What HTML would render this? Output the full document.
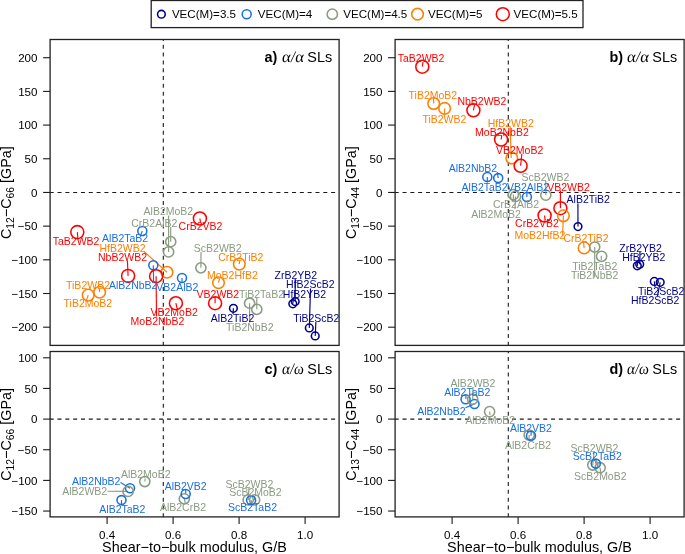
<!DOCTYPE html><html><head><meta charset="utf-8"><style>html,body{margin:0;padding:0;background:#fff;overflow:hidden}svg{display:block;will-change:transform;font-family:"Liberation Sans",sans-serif}</style></head><body>
<svg width="685" height="554" viewBox="0 0 685 554">
<rect width="685" height="554" fill="#fff"/>
<rect x="151.2" y="0.5" width="431.8" height="27.1" fill="none" stroke="#222" stroke-width="1.3"/>
<circle cx="161.4" cy="14.2" r="3.85" fill="none" stroke="#00008B" stroke-width="1.55"/>
<text x="171.9" y="18.4" font-size="11.6" fill="#000">VEC(M)=3.5</text>
<circle cx="246.7" cy="14.2" r="4.5" fill="none" stroke="#1a6fe0" stroke-width="1.55"/>
<text x="257.8" y="18.4" font-size="11.6" fill="#000">VEC(M)=4</text>
<circle cx="332.3" cy="14.2" r="5.15" fill="none" stroke="#8a9b82" stroke-width="1.55"/>
<text x="343.2" y="18.4" font-size="11.6" fill="#000">VEC(M)=4.5</text>
<circle cx="417.5" cy="14.2" r="5.8" fill="none" stroke="#ff7f00" stroke-width="1.55"/>
<text x="428.0" y="18.4" font-size="11.6" fill="#000">VEC(M)=5</text>
<circle cx="502.8" cy="14.2" r="6.5" fill="none" stroke="#ff0000" stroke-width="1.55"/>
<text x="513.6" y="18.4" font-size="11.6" fill="#000">VEC(M)=5.5</text>
<line x1="50.1" y1="192.45" x2="339.1" y2="192.45" stroke="#1a1a1a" stroke-width="1.1" stroke-dasharray="4 3.817" stroke-dashoffset="0.4"/>
<line x1="163.3" y1="345.4" x2="163.3" y2="39.5" stroke="#1a1a1a" stroke-width="1.1" stroke-dasharray="4 3.817" stroke-dashoffset="0.4"/>
<line x1="43.1" y1="57.71" x2="50.1" y2="57.71" stroke="#1a1a1a" stroke-width="1.1"/>
<text x="37.5" y="61.91" font-size="11.6" text-anchor="end">200</text>
<line x1="43.1" y1="91.39" x2="50.1" y2="91.39" stroke="#1a1a1a" stroke-width="1.1"/>
<text x="37.5" y="95.59" font-size="11.6" text-anchor="end">150</text>
<line x1="43.1" y1="125.08" x2="50.1" y2="125.08" stroke="#1a1a1a" stroke-width="1.1"/>
<text x="37.5" y="129.28" font-size="11.6" text-anchor="end">100</text>
<line x1="43.1" y1="158.76" x2="50.1" y2="158.76" stroke="#1a1a1a" stroke-width="1.1"/>
<text x="37.5" y="162.96" font-size="11.6" text-anchor="end">50</text>
<line x1="43.1" y1="192.45" x2="50.1" y2="192.45" stroke="#1a1a1a" stroke-width="1.1"/>
<text x="37.5" y="196.65" font-size="11.6" text-anchor="end">0</text>
<line x1="43.1" y1="226.13" x2="50.1" y2="226.13" stroke="#1a1a1a" stroke-width="1.1"/>
<text x="37.5" y="230.33" font-size="11.6" text-anchor="end">−50</text>
<line x1="43.1" y1="259.82" x2="50.1" y2="259.82" stroke="#1a1a1a" stroke-width="1.1"/>
<text x="37.5" y="264.02" font-size="11.6" text-anchor="end">−100</text>
<line x1="43.1" y1="293.5" x2="50.1" y2="293.5" stroke="#1a1a1a" stroke-width="1.1"/>
<text x="37.5" y="297.7" font-size="11.6" text-anchor="end">−150</text>
<line x1="43.1" y1="327.19" x2="50.1" y2="327.19" stroke="#1a1a1a" stroke-width="1.1"/>
<text x="37.5" y="331.39" font-size="11.6" text-anchor="end">−200</text>
<text transform="translate(10.9,192.65) rotate(-90)" font-size="14.4" text-anchor="middle">C<tspan font-size="10.3" dy="2.8">12</tspan><tspan dy="-2.8">−C</tspan><tspan font-size="10.3" dy="2.8">66</tspan><tspan dy="-2.8"> [GPa]</tspan></text>
<text x="264.5" y="61.5" font-size="14.4" font-weight="bold">a)</text>
<text transform="translate(281.5,61.5) skewX(-7)" font-size="16" font-family="Liberation Serif" textLength="22" lengthAdjust="spacingAndGlyphs">α/α</text>
<text x="332.1" y="61.5" font-size="14.4" text-anchor="end">SLs</text>
<line x1="77.3" y1="232.1" x2="77.8" y2="237" stroke="#ff0000" stroke-width="1.15"/>
<line x1="142.3" y1="230.9" x2="141" y2="234.5" stroke="#1a6fe0" stroke-width="1.15"/>
<line x1="144" y1="251.5" x2="167" y2="272.2" stroke="#ff7f00" stroke-width="1.15"/>
<line x1="127.4" y1="261" x2="128.1" y2="275.9" stroke="#ff0000" stroke-width="1.15"/>
<line x1="170.7" y1="227" x2="170.7" y2="241.7" stroke="#8a9b82" stroke-width="1.15"/>
<line x1="168.6" y1="215.5" x2="168.6" y2="251.9" stroke="#8a9b82" stroke-width="1.15"/>
<line x1="199.9" y1="218.5" x2="200.5" y2="222.5" stroke="#ff0000" stroke-width="1.15"/>
<line x1="201" y1="252" x2="200.9" y2="267.8" stroke="#8a9b82" stroke-width="1.15"/>
<line x1="239.3" y1="264.1" x2="239.6" y2="261" stroke="#ff7f00" stroke-width="1.15"/>
<line x1="218.5" y1="282.7" x2="219.5" y2="279" stroke="#ff7f00" stroke-width="1.15"/>
<line x1="215.1" y1="303.2" x2="215.1" y2="297.5" stroke="#ff0000" stroke-width="1.15"/>
<line x1="256.8" y1="309.3" x2="256.8" y2="297.5" stroke="#8a9b82" stroke-width="1.15"/>
<line x1="249.6" y1="303.2" x2="249.6" y2="322.5" stroke="#8a9b82" stroke-width="1.15"/>
<line x1="233.4" y1="308.3" x2="233" y2="314" stroke="#00008B" stroke-width="1.15"/>
<line x1="295.2" y1="279" x2="295.2" y2="301.6" stroke="#00008B" stroke-width="1.15"/>
<line x1="310.5" y1="288.5" x2="309.3" y2="327.9" stroke="#00008B" stroke-width="1.15"/>
<line x1="293.5" y1="297.5" x2="292.8" y2="303.8" stroke="#00008B" stroke-width="1.15"/>
<line x1="315.9" y1="322" x2="315.2" y2="335.9" stroke="#00008B" stroke-width="1.15"/>
<line x1="99.6" y1="292.2" x2="99.4" y2="288.5" stroke="#ff7f00" stroke-width="1.15"/>
<line x1="88.2" y1="295.1" x2="87" y2="299" stroke="#ff7f00" stroke-width="1.15"/>
<line x1="153.3" y1="265.2" x2="153.6" y2="281" stroke="#1a6fe0" stroke-width="1.15"/>
<line x1="182" y1="277.9" x2="182" y2="283" stroke="#1a6fe0" stroke-width="1.15"/>
<line x1="175.9" y1="303.2" x2="177" y2="308" stroke="#ff0000" stroke-width="1.15"/>
<line x1="156.1" y1="276.2" x2="156.5" y2="316.5" stroke="#ff0000" stroke-width="1.15"/>
<circle cx="77.3" cy="232.1" r="6.5" fill="none" stroke="#ff0000" stroke-width="1.55"/>
<circle cx="142.3" cy="230.9" r="4.5" fill="none" stroke="#1a6fe0" stroke-width="1.55"/>
<circle cx="167" cy="272.2" r="5.8" fill="none" stroke="#ff7f00" stroke-width="1.55"/>
<circle cx="128.1" cy="275.9" r="6.5" fill="none" stroke="#ff0000" stroke-width="1.55"/>
<circle cx="170.7" cy="241.7" r="5.1" fill="none" stroke="#8a9b82" stroke-width="1.55"/>
<circle cx="168.6" cy="251.9" r="5.1" fill="none" stroke="#8a9b82" stroke-width="1.55"/>
<circle cx="199.9" cy="218.5" r="6.5" fill="none" stroke="#ff0000" stroke-width="1.55"/>
<circle cx="200.9" cy="267.8" r="5.1" fill="none" stroke="#8a9b82" stroke-width="1.55"/>
<circle cx="239.3" cy="264.1" r="5.8" fill="none" stroke="#ff7f00" stroke-width="1.55"/>
<circle cx="218.5" cy="282.7" r="5.8" fill="none" stroke="#ff7f00" stroke-width="1.55"/>
<circle cx="215.1" cy="303.2" r="6.5" fill="none" stroke="#ff0000" stroke-width="1.55"/>
<circle cx="256.8" cy="309.3" r="5.1" fill="none" stroke="#8a9b82" stroke-width="1.55"/>
<circle cx="249.6" cy="303.2" r="5.1" fill="none" stroke="#8a9b82" stroke-width="1.55"/>
<circle cx="233.4" cy="308.3" r="3.85" fill="none" stroke="#00008B" stroke-width="1.55"/>
<circle cx="295.2" cy="301.6" r="3.85" fill="none" stroke="#00008B" stroke-width="1.55"/>
<circle cx="309.3" cy="327.9" r="3.85" fill="none" stroke="#00008B" stroke-width="1.55"/>
<circle cx="292.8" cy="303.8" r="3.85" fill="none" stroke="#00008B" stroke-width="1.55"/>
<circle cx="315.2" cy="335.9" r="3.85" fill="none" stroke="#00008B" stroke-width="1.55"/>
<circle cx="99.6" cy="292.2" r="5.8" fill="none" stroke="#ff7f00" stroke-width="1.55"/>
<circle cx="88.2" cy="295.1" r="5.8" fill="none" stroke="#ff7f00" stroke-width="1.55"/>
<circle cx="153.3" cy="265.2" r="4.5" fill="none" stroke="#1a6fe0" stroke-width="1.55"/>
<circle cx="182" cy="277.9" r="4.5" fill="none" stroke="#1a6fe0" stroke-width="1.55"/>
<circle cx="175.9" cy="303.2" r="6.5" fill="none" stroke="#ff0000" stroke-width="1.55"/>
<circle cx="156.1" cy="276.2" r="6.5" fill="none" stroke="#ff0000" stroke-width="1.55"/>
<text x="76.05" y="245.3" font-size="10.5" text-anchor="middle" fill="#ff0000">TaB2WB2</text>
<text x="125.15" y="242.4" font-size="10.5" text-anchor="middle" fill="#1a6fe0">AlB2TaB2</text>
<text x="122.55" y="251.9" font-size="10.5" text-anchor="middle" fill="#ff7f00">HfB2WB2</text>
<text x="122.5" y="260.9" font-size="10.5" text-anchor="middle" fill="#ff0000">NbB2WB2</text>
<text x="154.3" y="227.2" font-size="10.5" text-anchor="middle" fill="#8a9b82">CrB2AlB2</text>
<text x="168.4" y="215.2" font-size="10.5" text-anchor="middle" fill="#8a9b82">AlB2MoB2</text>
<text x="200.45" y="229.8" font-size="10.5" text-anchor="middle" fill="#ff0000">CrB2VB2</text>
<text x="217.75" y="252" font-size="10.5" text-anchor="middle" fill="#8a9b82">ScB2WB2</text>
<text x="240.8" y="261.2" font-size="10.5" text-anchor="middle" fill="#ff7f00">CrB2TiB2</text>
<text x="232.35" y="279.4" font-size="10.5" text-anchor="middle" fill="#ff7f00">MoB2HfB2</text>
<text x="217.9" y="297.7" font-size="10.5" text-anchor="middle" fill="#ff0000">VB2WB2</text>
<text x="261.5" y="297.7" font-size="10.5" text-anchor="middle" fill="#8a9b82">TiB2TaB2</text>
<text x="249.8" y="330.7" font-size="10.5" text-anchor="middle" fill="#8a9b82">TiB2NbB2</text>
<text x="232.55" y="322.2" font-size="10.5" text-anchor="middle" fill="#00008B">AlB2TiB2</text>
<text x="295.85" y="279.2" font-size="10.5" text-anchor="middle" fill="#00008B">ZrB2YB2</text>
<text x="310.35" y="288.4" font-size="10.5" text-anchor="middle" fill="#00008B">HfB2ScB2</text>
<text x="304.4" y="297.6" font-size="10.5" text-anchor="middle" fill="#00008B">HfB2YB2</text>
<text x="316.3" y="322.1" font-size="10.5" text-anchor="middle" fill="#00008B">TiB2ScB2</text>
<text x="88" y="288.6" font-size="10.5" text-anchor="middle" fill="#ff7f00">TiB2WB2</text>
<text x="87.9" y="306.9" font-size="10.5" text-anchor="middle" fill="#ff7f00">TiB2MoB2</text>
<text x="133.2" y="288.6" font-size="10.5" text-anchor="middle" fill="#1a6fe0">AlB2NbB2</text>
<text x="177.3" y="291.3" font-size="10.5" text-anchor="middle" fill="#1a6fe0">VB2AlB2</text>
<text x="174.15" y="315.9" font-size="10.5" text-anchor="middle" fill="#ff0000">VB2MoB2</text>
<text x="157.45" y="325.1" font-size="10.5" text-anchor="middle" fill="#ff0000">MoB2NbB2</text>
<rect x="50.1" y="39.5" width="289" height="305.9" fill="none" stroke="#222" stroke-width="1.3"/>
<line x1="395.1" y1="192.45" x2="684.1" y2="192.45" stroke="#1a1a1a" stroke-width="1.1" stroke-dasharray="4 3.817" stroke-dashoffset="0.4"/>
<line x1="508.3" y1="345.4" x2="508.3" y2="39.5" stroke="#1a1a1a" stroke-width="1.1" stroke-dasharray="4 3.817" stroke-dashoffset="0.4"/>
<line x1="388.1" y1="57.71" x2="395.1" y2="57.71" stroke="#1a1a1a" stroke-width="1.1"/>
<text x="382.5" y="61.91" font-size="11.6" text-anchor="end">200</text>
<line x1="388.1" y1="91.39" x2="395.1" y2="91.39" stroke="#1a1a1a" stroke-width="1.1"/>
<text x="382.5" y="95.59" font-size="11.6" text-anchor="end">150</text>
<line x1="388.1" y1="125.08" x2="395.1" y2="125.08" stroke="#1a1a1a" stroke-width="1.1"/>
<text x="382.5" y="129.28" font-size="11.6" text-anchor="end">100</text>
<line x1="388.1" y1="158.76" x2="395.1" y2="158.76" stroke="#1a1a1a" stroke-width="1.1"/>
<text x="382.5" y="162.96" font-size="11.6" text-anchor="end">50</text>
<line x1="388.1" y1="192.45" x2="395.1" y2="192.45" stroke="#1a1a1a" stroke-width="1.1"/>
<text x="382.5" y="196.65" font-size="11.6" text-anchor="end">0</text>
<line x1="388.1" y1="226.13" x2="395.1" y2="226.13" stroke="#1a1a1a" stroke-width="1.1"/>
<text x="382.5" y="230.33" font-size="11.6" text-anchor="end">−50</text>
<line x1="388.1" y1="259.82" x2="395.1" y2="259.82" stroke="#1a1a1a" stroke-width="1.1"/>
<text x="382.5" y="264.02" font-size="11.6" text-anchor="end">−100</text>
<line x1="388.1" y1="293.5" x2="395.1" y2="293.5" stroke="#1a1a1a" stroke-width="1.1"/>
<text x="382.5" y="297.7" font-size="11.6" text-anchor="end">−150</text>
<line x1="388.1" y1="327.19" x2="395.1" y2="327.19" stroke="#1a1a1a" stroke-width="1.1"/>
<text x="382.5" y="331.39" font-size="11.6" text-anchor="end">−200</text>
<text transform="translate(355.9,192.65) rotate(-90)" font-size="14.4" text-anchor="middle">C<tspan font-size="10.3" dy="2.8">13</tspan><tspan dy="-2.8">−C</tspan><tspan font-size="10.3" dy="2.8">44</tspan><tspan dy="-2.8"> [GPa]</tspan></text>
<text x="609.5" y="61.5" font-size="14.4" font-weight="bold">b)</text>
<text transform="translate(626.5,61.5) skewX(-7)" font-size="16" font-family="Liberation Serif" textLength="22" lengthAdjust="spacingAndGlyphs">α/α</text>
<text x="677.1" y="61.5" font-size="14.4" text-anchor="end">SLs</text>
<line x1="422.3" y1="66.7" x2="423" y2="62" stroke="#ff0000" stroke-width="1.15"/>
<line x1="433.7" y1="103.5" x2="433.5" y2="98.5" stroke="#ff7f00" stroke-width="1.15"/>
<line x1="444.6" y1="108.4" x2="444.6" y2="114" stroke="#ff7f00" stroke-width="1.15"/>
<line x1="473.4" y1="110.3" x2="474.5" y2="105" stroke="#ff0000" stroke-width="1.15"/>
<line x1="510.1" y1="126.5" x2="511.2" y2="158" stroke="#ff7f00" stroke-width="1.15"/>
<line x1="501.1" y1="139.5" x2="501.8" y2="135.5" stroke="#ff0000" stroke-width="1.15"/>
<line x1="520.6" y1="165.8" x2="521.8" y2="154" stroke="#ff0000" stroke-width="1.15"/>
<line x1="498.2" y1="178.1" x2="497.2" y2="172" stroke="#1a6fe0" stroke-width="1.15"/>
<line x1="487.3" y1="177" x2="487.3" y2="182.5" stroke="#1a6fe0" stroke-width="1.15"/>
<line x1="526.9" y1="197" x2="526.9" y2="190.5" stroke="#1a6fe0" stroke-width="1.15"/>
<line x1="545.8" y1="195.1" x2="545.8" y2="181" stroke="#8a9b82" stroke-width="1.15"/>
<line x1="560.4" y1="208.2" x2="560.4" y2="190.5" stroke="#ff0000" stroke-width="1.15"/>
<line x1="513.4" y1="194.6" x2="513.4" y2="200" stroke="#8a9b82" stroke-width="1.15"/>
<line x1="515.5" y1="196.4" x2="515" y2="209" stroke="#8a9b82" stroke-width="1.15"/>
<line x1="577.9" y1="203.5" x2="578" y2="226.6" stroke="#00008B" stroke-width="1.15"/>
<line x1="544.6" y1="215.5" x2="545" y2="219.5" stroke="#ff0000" stroke-width="1.15"/>
<line x1="563.4" y1="215.8" x2="562.6" y2="235" stroke="#ff7f00" stroke-width="1.15"/>
<line x1="584.1" y1="247.9" x2="583.6" y2="242.5" stroke="#ff7f00" stroke-width="1.15"/>
<line x1="594.7" y1="247" x2="594.7" y2="277.5" stroke="#8a9b82" stroke-width="1.15"/>
<line x1="601.3" y1="255.8" x2="601.3" y2="260" stroke="#8a9b82" stroke-width="1.15"/>
<line x1="640" y1="252" x2="639.7" y2="264.3" stroke="#00008B" stroke-width="1.15"/>
<line x1="637.3" y1="265.8" x2="638" y2="261" stroke="#00008B" stroke-width="1.15"/>
<line x1="654.3" y1="281.4" x2="655" y2="287" stroke="#00008B" stroke-width="1.15"/>
<line x1="660.2" y1="282.3" x2="657.5" y2="296" stroke="#00008B" stroke-width="1.15"/>
<circle cx="422.3" cy="66.7" r="6.5" fill="none" stroke="#ff0000" stroke-width="1.55"/>
<circle cx="433.7" cy="103.5" r="5.8" fill="none" stroke="#ff7f00" stroke-width="1.55"/>
<circle cx="444.6" cy="108.4" r="5.8" fill="none" stroke="#ff7f00" stroke-width="1.55"/>
<circle cx="473.4" cy="110.3" r="6.5" fill="none" stroke="#ff0000" stroke-width="1.55"/>
<circle cx="511.8" cy="158" r="5.8" fill="none" stroke="#ff7f00" stroke-width="1.55"/>
<circle cx="501.1" cy="139.5" r="6.5" fill="none" stroke="#ff0000" stroke-width="1.55"/>
<circle cx="520.6" cy="165.8" r="6.5" fill="none" stroke="#ff0000" stroke-width="1.55"/>
<circle cx="498.2" cy="178.1" r="4.5" fill="none" stroke="#1a6fe0" stroke-width="1.55"/>
<circle cx="487.3" cy="177" r="4.5" fill="none" stroke="#1a6fe0" stroke-width="1.55"/>
<circle cx="526.9" cy="197" r="4.5" fill="none" stroke="#1a6fe0" stroke-width="1.55"/>
<circle cx="545.8" cy="195.1" r="5.1" fill="none" stroke="#8a9b82" stroke-width="1.55"/>
<circle cx="560.4" cy="208.2" r="6.5" fill="none" stroke="#ff0000" stroke-width="1.55"/>
<circle cx="513.4" cy="194.6" r="5.1" fill="none" stroke="#8a9b82" stroke-width="1.55"/>
<circle cx="515.5" cy="196.4" r="5.1" fill="none" stroke="#8a9b82" stroke-width="1.55"/>
<circle cx="578" cy="226.6" r="3.85" fill="none" stroke="#00008B" stroke-width="1.55"/>
<circle cx="544.6" cy="215.5" r="6.5" fill="none" stroke="#ff0000" stroke-width="1.55"/>
<circle cx="563.4" cy="215.8" r="5.8" fill="none" stroke="#ff7f00" stroke-width="1.55"/>
<circle cx="584.1" cy="247.9" r="5.8" fill="none" stroke="#ff7f00" stroke-width="1.55"/>
<circle cx="594.7" cy="247" r="5.1" fill="none" stroke="#8a9b82" stroke-width="1.55"/>
<circle cx="601.6" cy="256.3" r="5.1" fill="none" stroke="#8a9b82" stroke-width="1.55"/>
<circle cx="639.7" cy="264.3" r="3.85" fill="none" stroke="#00008B" stroke-width="1.55"/>
<circle cx="637.3" cy="265.8" r="3.85" fill="none" stroke="#00008B" stroke-width="1.55"/>
<circle cx="654.3" cy="281.4" r="3.85" fill="none" stroke="#00008B" stroke-width="1.55"/>
<circle cx="660.2" cy="282.3" r="3.85" fill="none" stroke="#00008B" stroke-width="1.55"/>
<text x="421.05" y="62.4" font-size="10.5" text-anchor="middle" fill="#ff0000">TaB2WB2</text>
<text x="432.9" y="98.9" font-size="10.5" text-anchor="middle" fill="#ff7f00">TiB2MoB2</text>
<text x="444.4" y="123.2" font-size="10.5" text-anchor="middle" fill="#ff7f00">TiB2WB2</text>
<text x="481.95" y="105" font-size="10.5" text-anchor="middle" fill="#ff0000">NbB2WB2</text>
<text x="510.85" y="126.5" font-size="10.5" text-anchor="middle" fill="#ff7f00">HfB2WB2</text>
<text x="501.95" y="135.5" font-size="10.5" text-anchor="middle" fill="#ff0000">MoB2NbB2</text>
<text x="519.65" y="153.9" font-size="10.5" text-anchor="middle" fill="#ff0000">VB2MoB2</text>
<text x="473" y="172.4" font-size="10.5" text-anchor="middle" fill="#1a6fe0">AlB2NbB2</text>
<text x="484.65" y="190.5" font-size="10.5" text-anchor="middle" fill="#1a6fe0">AlB2TaB2</text>
<text x="528" y="190.5" font-size="10.5" text-anchor="middle" fill="#1a6fe0">VB2AlB2</text>
<text x="545.35" y="181.1" font-size="10.5" text-anchor="middle" fill="#8a9b82">ScB2WB2</text>
<text x="568.5" y="190.5" font-size="10.5" text-anchor="middle" fill="#ff0000">VB2WB2</text>
<text x="516.05" y="208.2" font-size="10.5" text-anchor="middle" fill="#8a9b82">CrB2AlB2</text>
<text x="496.05" y="217.7" font-size="10.5" text-anchor="middle" fill="#8a9b82">AlB2MoB2</text>
<text x="588.25" y="203.2" font-size="10.5" text-anchor="middle" fill="#00008B">AlB2TiB2</text>
<text x="537" y="227" font-size="10.5" text-anchor="middle" fill="#ff0000">CrB2VB2</text>
<text x="539.9" y="239.1" font-size="10.5" text-anchor="middle" fill="#ff7f00">MoB2HfB2</text>
<text x="586" y="242.4" font-size="10.5" text-anchor="middle" fill="#ff7f00">CrB2TiB2</text>
<text x="594.7" y="269.9" font-size="10.5" text-anchor="middle" fill="#8a9b82">TiB2TaB2</text>
<text x="594.65" y="279.1" font-size="10.5" text-anchor="middle" fill="#8a9b82">TiB2NbB2</text>
<text x="640.65" y="252" font-size="10.5" text-anchor="middle" fill="#00008B">ZrB2YB2</text>
<text x="643.85" y="261.2" font-size="10.5" text-anchor="middle" fill="#00008B">HfB2YB2</text>
<text x="661.1" y="294.5" font-size="10.5" text-anchor="middle" fill="#00008B">TiB2ScB2</text>
<text x="655.2" y="303.9" font-size="10.5" text-anchor="middle" fill="#00008B">HfB2ScB2</text>
<rect x="395.1" y="39.5" width="289" height="305.9" fill="none" stroke="#222" stroke-width="1.3"/>
<line x1="50.1" y1="419.1" x2="339.1" y2="419.1" stroke="#1a1a1a" stroke-width="1.1" stroke-dasharray="4 3.817" stroke-dashoffset="0.4"/>
<line x1="163.3" y1="516.9" x2="163.3" y2="351.5" stroke="#1a1a1a" stroke-width="1.1" stroke-dasharray="4 3.817" stroke-dashoffset="0.4"/>
<line x1="43.1" y1="357.8" x2="50.1" y2="357.8" stroke="#1a1a1a" stroke-width="1.1"/>
<text x="37.5" y="362" font-size="11.6" text-anchor="end">100</text>
<line x1="43.1" y1="388.45" x2="50.1" y2="388.45" stroke="#1a1a1a" stroke-width="1.1"/>
<text x="37.5" y="392.65" font-size="11.6" text-anchor="end">50</text>
<line x1="43.1" y1="419.1" x2="50.1" y2="419.1" stroke="#1a1a1a" stroke-width="1.1"/>
<text x="37.5" y="423.3" font-size="11.6" text-anchor="end">0</text>
<line x1="43.1" y1="449.75" x2="50.1" y2="449.75" stroke="#1a1a1a" stroke-width="1.1"/>
<text x="37.5" y="453.95" font-size="11.6" text-anchor="end">−50</text>
<line x1="43.1" y1="480.4" x2="50.1" y2="480.4" stroke="#1a1a1a" stroke-width="1.1"/>
<text x="37.5" y="484.6" font-size="11.6" text-anchor="end">−100</text>
<line x1="43.1" y1="511.05" x2="50.1" y2="511.05" stroke="#1a1a1a" stroke-width="1.1"/>
<text x="37.5" y="515.25" font-size="11.6" text-anchor="end">−150</text>
<line x1="107.1" y1="516.9" x2="107.1" y2="523.9" stroke="#1a1a1a" stroke-width="1.1"/>
<text x="107.1" y="539.4" font-size="11.6" text-anchor="middle">0.4</text>
<line x1="173.1" y1="516.9" x2="173.1" y2="523.9" stroke="#1a1a1a" stroke-width="1.1"/>
<text x="173.1" y="539.4" font-size="11.6" text-anchor="middle">0.6</text>
<line x1="239.1" y1="516.9" x2="239.1" y2="523.9" stroke="#1a1a1a" stroke-width="1.1"/>
<text x="239.1" y="539.4" font-size="11.6" text-anchor="middle">0.8</text>
<line x1="305.1" y1="516.9" x2="305.1" y2="523.9" stroke="#1a1a1a" stroke-width="1.1"/>
<text x="305.1" y="539.4" font-size="11.6" text-anchor="middle">1.0</text>
<text x="194.5" y="551.6" font-size="14.4" text-anchor="middle">Shear−to−bulk modulus, G/B</text>
<text transform="translate(10.9,434.4) rotate(-90)" font-size="14.4" text-anchor="middle">C<tspan font-size="10.3" dy="2.8">12</tspan><tspan dy="-2.8">−C</tspan><tspan font-size="10.3" dy="2.8">66</tspan><tspan dy="-2.8"> [GPa]</tspan></text>
<text x="264.5" y="373.5" font-size="14.4" font-weight="bold">c)</text>
<text transform="translate(281.5,373.5) skewX(-7)" font-size="16" font-family="Liberation Serif" textLength="22" lengthAdjust="spacingAndGlyphs">α/ω</text>
<text x="332.1" y="373.5" font-size="14.4" text-anchor="end">SLs</text>
<line x1="120.5" y1="482.5" x2="130" y2="488.2" stroke="#1a6fe0" stroke-width="1.15"/>
<line x1="107.5" y1="491.2" x2="128.1" y2="491.4" stroke="#8a9b82" stroke-width="1.15"/>
<line x1="121.5" y1="500.1" x2="121.5" y2="505" stroke="#1a6fe0" stroke-width="1.15"/>
<line x1="144.8" y1="481.5" x2="145.2" y2="478.5" stroke="#8a9b82" stroke-width="1.15"/>
<line x1="184.3" y1="498.8" x2="185.4" y2="503.3" stroke="#8a9b82" stroke-width="1.15"/>
<line x1="185.7" y1="493.9" x2="185.7" y2="490" stroke="#1a6fe0" stroke-width="1.15"/>
<line x1="248.2" y1="499.9" x2="249" y2="488" stroke="#8a9b82" stroke-width="1.15"/>
<line x1="254.6" y1="499.9" x2="254.6" y2="496" stroke="#8a9b82" stroke-width="1.15"/>
<line x1="251.1" y1="500.2" x2="251.1" y2="503" stroke="#1a6fe0" stroke-width="1.15"/>
<circle cx="130" cy="488.2" r="4.5" fill="none" stroke="#1a6fe0" stroke-width="1.55"/>
<circle cx="128.1" cy="491.4" r="5.1" fill="none" stroke="#8a9b82" stroke-width="1.55"/>
<circle cx="121.5" cy="500.1" r="4.5" fill="none" stroke="#1a6fe0" stroke-width="1.55"/>
<circle cx="144.8" cy="481.5" r="5.1" fill="none" stroke="#8a9b82" stroke-width="1.55"/>
<circle cx="184.3" cy="498.8" r="5.1" fill="none" stroke="#8a9b82" stroke-width="1.55"/>
<circle cx="185.7" cy="493.9" r="4.5" fill="none" stroke="#1a6fe0" stroke-width="1.55"/>
<circle cx="248.2" cy="499.9" r="5.1" fill="none" stroke="#8a9b82" stroke-width="1.55"/>
<circle cx="254.6" cy="499.9" r="5.1" fill="none" stroke="#8a9b82" stroke-width="1.55"/>
<circle cx="251.1" cy="500.2" r="4.5" fill="none" stroke="#1a6fe0" stroke-width="1.55"/>
<text x="96.2" y="484.9" font-size="10.5" text-anchor="middle" fill="#1a6fe0">AlB2NbB2</text>
<text x="84.7" y="495.1" font-size="10.5" text-anchor="middle" fill="#8a9b82">AlB2WB2</text>
<text x="122.4" y="513.1" font-size="10.5" text-anchor="middle" fill="#1a6fe0">AlB2TaB2</text>
<text x="145.7" y="478.3" font-size="10.5" text-anchor="middle" fill="#8a9b82">AlB2MoB2</text>
<text x="183" y="511.2" font-size="10.5" text-anchor="middle" fill="#8a9b82">AlB2CrB2</text>
<text x="185.7" y="490" font-size="10.5" text-anchor="middle" fill="#1a6fe0">AlB2VB2</text>
<text x="249.45" y="488.2" font-size="10.5" text-anchor="middle" fill="#8a9b82">ScB2WB2</text>
<text x="255.45" y="496.1" font-size="10.5" text-anchor="middle" fill="#8a9b82">ScB2MoB2</text>
<text x="252.5" y="511.2" font-size="10.5" text-anchor="middle" fill="#1a6fe0">ScB2TaB2</text>
<rect x="50.1" y="351.5" width="289" height="165.4" fill="none" stroke="#222" stroke-width="1.3"/>
<line x1="395.1" y1="419.1" x2="684.1" y2="419.1" stroke="#1a1a1a" stroke-width="1.1" stroke-dasharray="4 3.817" stroke-dashoffset="0.4"/>
<line x1="508.3" y1="516.9" x2="508.3" y2="351.5" stroke="#1a1a1a" stroke-width="1.1" stroke-dasharray="4 3.817" stroke-dashoffset="0.4"/>
<line x1="388.1" y1="357.8" x2="395.1" y2="357.8" stroke="#1a1a1a" stroke-width="1.1"/>
<text x="382.5" y="362" font-size="11.6" text-anchor="end">100</text>
<line x1="388.1" y1="388.45" x2="395.1" y2="388.45" stroke="#1a1a1a" stroke-width="1.1"/>
<text x="382.5" y="392.65" font-size="11.6" text-anchor="end">50</text>
<line x1="388.1" y1="419.1" x2="395.1" y2="419.1" stroke="#1a1a1a" stroke-width="1.1"/>
<text x="382.5" y="423.3" font-size="11.6" text-anchor="end">0</text>
<line x1="388.1" y1="449.75" x2="395.1" y2="449.75" stroke="#1a1a1a" stroke-width="1.1"/>
<text x="382.5" y="453.95" font-size="11.6" text-anchor="end">−50</text>
<line x1="388.1" y1="480.4" x2="395.1" y2="480.4" stroke="#1a1a1a" stroke-width="1.1"/>
<text x="382.5" y="484.6" font-size="11.6" text-anchor="end">−100</text>
<line x1="388.1" y1="511.05" x2="395.1" y2="511.05" stroke="#1a1a1a" stroke-width="1.1"/>
<text x="382.5" y="515.25" font-size="11.6" text-anchor="end">−150</text>
<line x1="452.1" y1="516.9" x2="452.1" y2="523.9" stroke="#1a1a1a" stroke-width="1.1"/>
<text x="452.1" y="539.4" font-size="11.6" text-anchor="middle">0.4</text>
<line x1="518.1" y1="516.9" x2="518.1" y2="523.9" stroke="#1a1a1a" stroke-width="1.1"/>
<text x="518.1" y="539.4" font-size="11.6" text-anchor="middle">0.6</text>
<line x1="584.1" y1="516.9" x2="584.1" y2="523.9" stroke="#1a1a1a" stroke-width="1.1"/>
<text x="584.1" y="539.4" font-size="11.6" text-anchor="middle">0.8</text>
<line x1="650.1" y1="516.9" x2="650.1" y2="523.9" stroke="#1a1a1a" stroke-width="1.1"/>
<text x="650.1" y="539.4" font-size="11.6" text-anchor="middle">1.0</text>
<text x="539.5" y="551.6" font-size="14.4" text-anchor="middle">Shear−to−bulk modulus, G/B</text>
<text transform="translate(355.9,434.4) rotate(-90)" font-size="14.4" text-anchor="middle">C<tspan font-size="10.3" dy="2.8">13</tspan><tspan dy="-2.8">−C</tspan><tspan font-size="10.3" dy="2.8">44</tspan><tspan dy="-2.8"> [GPa]</tspan></text>
<text x="609.5" y="373.5" font-size="14.4" font-weight="bold">d)</text>
<text transform="translate(626.5,373.5) skewX(-7)" font-size="16" font-family="Liberation Serif" textLength="22" lengthAdjust="spacingAndGlyphs">α/ω</text>
<text x="677.1" y="373.5" font-size="14.4" text-anchor="end">SLs</text>
<line x1="465.8" y1="398.9" x2="466" y2="395.5" stroke="#1a6fe0" stroke-width="1.15"/>
<line x1="465.5" y1="407.7" x2="474.5" y2="403.9" stroke="#1a6fe0" stroke-width="1.15"/>
<line x1="472.7" y1="399.2" x2="473" y2="387" stroke="#8a9b82" stroke-width="1.15"/>
<line x1="489.6" y1="411.6" x2="490" y2="415" stroke="#8a9b82" stroke-width="1.15"/>
<line x1="529.2" y1="435" x2="529" y2="440" stroke="#8a9b82" stroke-width="1.15"/>
<line x1="531" y1="435.8" x2="531.2" y2="432" stroke="#1a6fe0" stroke-width="1.15"/>
<line x1="592.8" y1="465" x2="594" y2="452" stroke="#8a9b82" stroke-width="1.15"/>
<line x1="600.1" y1="467.7" x2="600.5" y2="472" stroke="#8a9b82" stroke-width="1.15"/>
<line x1="595.8" y1="463.6" x2="596" y2="460" stroke="#1a6fe0" stroke-width="1.15"/>
<circle cx="465.6" cy="399.2" r="4.5" fill="none" stroke="#1a6fe0" stroke-width="1.55"/>
<circle cx="474.5" cy="403.9" r="4.5" fill="none" stroke="#1a6fe0" stroke-width="1.55"/>
<circle cx="472.7" cy="399.2" r="5.1" fill="none" stroke="#8a9b82" stroke-width="1.55"/>
<circle cx="489.6" cy="411.6" r="5.1" fill="none" stroke="#8a9b82" stroke-width="1.55"/>
<circle cx="529.2" cy="435" r="5.1" fill="none" stroke="#8a9b82" stroke-width="1.55"/>
<circle cx="531" cy="435.8" r="4.5" fill="none" stroke="#1a6fe0" stroke-width="1.55"/>
<circle cx="592.8" cy="465" r="5.1" fill="none" stroke="#8a9b82" stroke-width="1.55"/>
<circle cx="600.1" cy="467.7" r="5.1" fill="none" stroke="#8a9b82" stroke-width="1.55"/>
<circle cx="595.8" cy="463.6" r="4.5" fill="none" stroke="#1a6fe0" stroke-width="1.55"/>
<text x="467.35" y="395.6" font-size="10.5" text-anchor="middle" fill="#1a6fe0">AlB2TaB2</text>
<text x="441.4" y="414.9" font-size="10.5" text-anchor="middle" fill="#1a6fe0">AlB2NbB2</text>
<text x="473" y="387.2" font-size="10.5" text-anchor="middle" fill="#8a9b82">AlB2WB2</text>
<text x="490.35" y="423.6" font-size="10.5" text-anchor="middle" fill="#8a9b82">AlB2MoB2</text>
<text x="528.1" y="448.5" font-size="10.5" text-anchor="middle" fill="#8a9b82">AlB2CrB2</text>
<text x="530.95" y="432" font-size="10.5" text-anchor="middle" fill="#1a6fe0">AlB2VB2</text>
<text x="594.5" y="452" font-size="10.5" text-anchor="middle" fill="#8a9b82">ScB2WB2</text>
<text x="600.3" y="480.1" font-size="10.5" text-anchor="middle" fill="#8a9b82">ScB2MoB2</text>
<text x="597.35" y="460" font-size="10.5" text-anchor="middle" fill="#1a6fe0">ScB2TaB2</text>
<rect x="395.1" y="351.5" width="289" height="165.4" fill="none" stroke="#222" stroke-width="1.3"/>
</svg></body></html>
